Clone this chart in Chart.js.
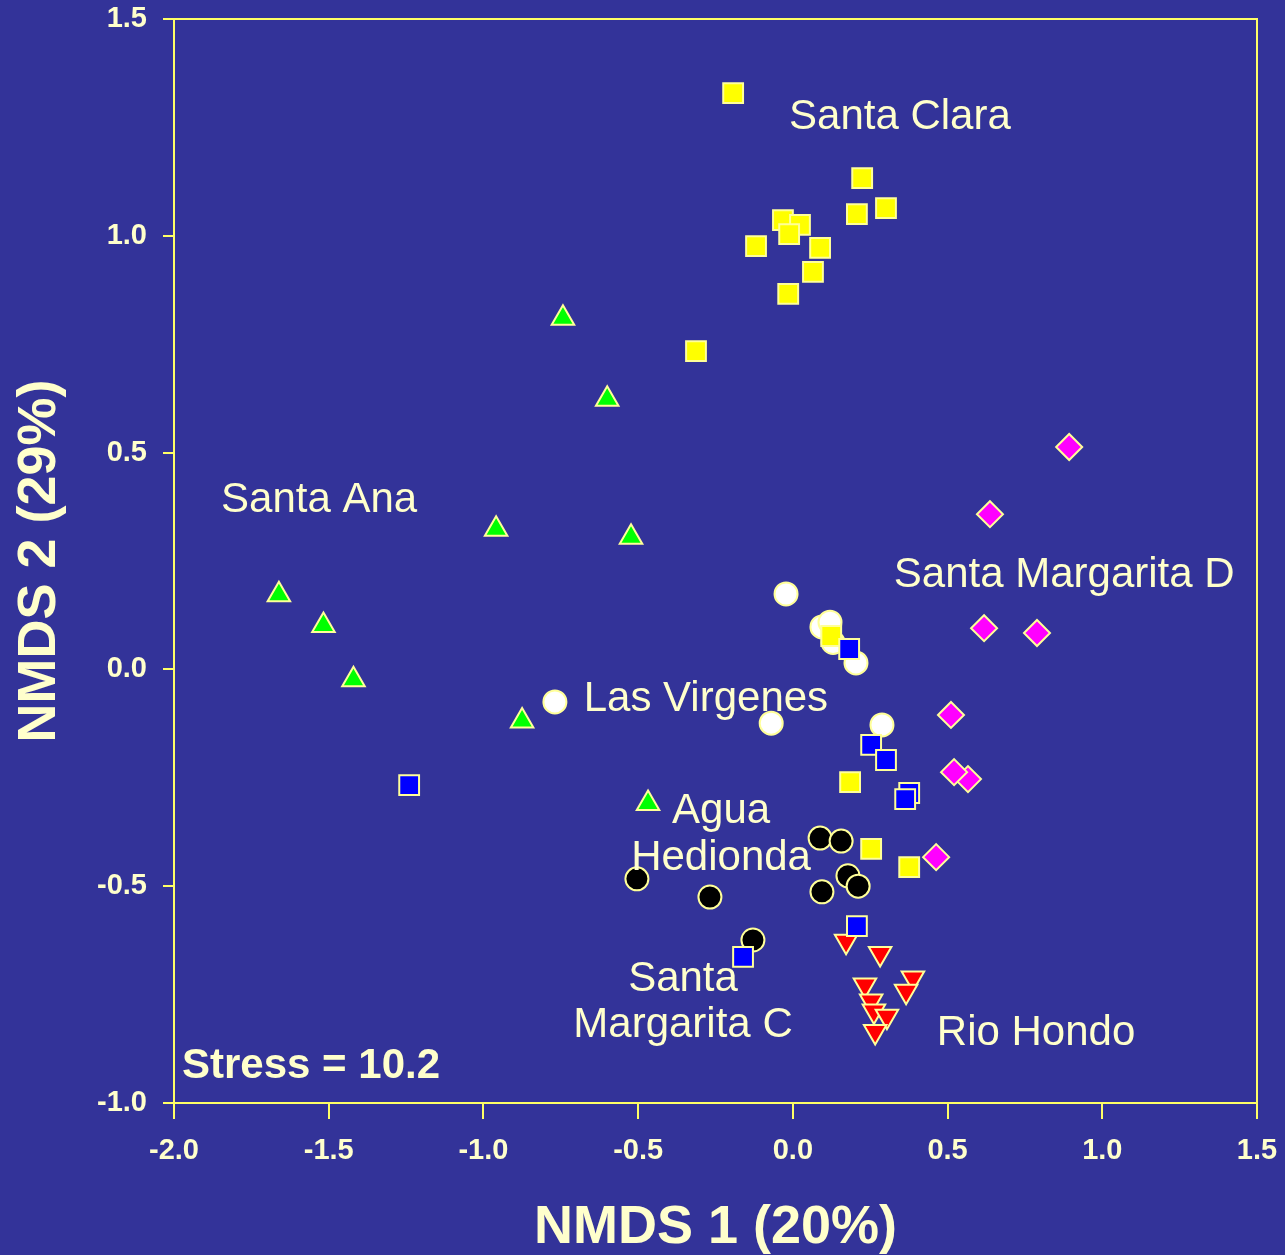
<!DOCTYPE html>
<html>
<head>
<meta charset="utf-8">
<title>NMDS</title>
<script src="https://cdn.jsdelivr.net/npm/chart.js@4.4.1/dist/chart.umd.min.js"></script>
<style>
  html, body { margin: 0; padding: 0; background: #333399; }
  canvas { display: block; }
</style>
</head>
<body>
<canvas id="nmds" width="1285" height="1255"></canvas>
<script>
// x = NMDS 1, y = NMDS 2
const santaClaraX = [-0.193, 0.224, 0.207, 0.301, -0.032, 0.023, -0.012, -0.119, 0.088, 0.065, -0.015, -0.313, 0.124, 0.185, 0.253, 0.376];
const santaClaraY = [1.329, 1.133, 1.050, 1.064, 1.036, 1.025, 1.004, 0.976, 0.972, 0.917, 0.866, 0.734, 0.077, -0.260, -0.414, -0.456];

const santaAnaX = [-0.743, -0.600, -0.959, -0.523, -1.661, -1.517, -1.420, -0.875, -0.468];
const santaAnaY = [0.810, 0.623, 0.323, 0.305, 0.172, 0.101, -0.024, -0.119, -0.309];

const lasVirgenesX = [-0.022, 0.094, 0.120, 0.130, 0.204, -0.769, -0.070, 0.288];
const lasVirgenesY = [0.174, 0.098, 0.109, 0.062, 0.015, -0.075, -0.124, -0.128];

const margaritaCX = [0.182, 0.253, 0.301, 0.376, 0.363, -1.240, 0.207, -0.161];
const margaritaCY = [0.047, -0.174, -0.209, -0.285, -0.299, -0.267, -0.592, -0.663];

const margaritaDX = [0.893, 0.637, 0.618, 0.789, 0.511, 0.566, 0.521, 0.463];
const margaritaDY = [0.513, 0.358, 0.095, 0.084, -0.105, -0.253, -0.237, -0.433];

const aguaX = [0.088, 0.156, 0.178, 0.211, 0.094, -0.504, -0.268, -0.129];
const aguaY = [-0.389, -0.396, -0.476, -0.500, -0.513, -0.483, -0.525, -0.624];

const rioHondoX = [0.172, 0.282, 0.233, 0.388, 0.366, 0.253, 0.262, 0.304, 0.266];
const rioHondoY = [-0.627, -0.655, -0.728, -0.712, -0.742, -0.765, -0.788, -0.800, -0.835];

// group names written on the plot, anchored in data units
const groupNames = ['Santa Clara', 'Santa Ana', 'Santa Margarita D', 'Las Virgenes', 'Agua', 'Hedionda', 'Santa', 'Margarita C', 'Rio Hondo'];
const groupNameX = [0.346, -1.531, 0.877, -0.281, -0.232, -0.232, -0.355, -0.355, 0.786];
const groupNameY = [1.281, 0.398, 0.225, -0.062, -0.320, -0.428, -0.707, -0.813, -0.832];

const xTitle = 'NMDS 1 (20%)';
const yTitle = 'NMDS 2 (29%)';
const stressText = 'Stress = 10.2';

const cream = '#FFFFCC';
const lineYellow = '#FFFF66';
const edge = '#FFFF99';

Chart.defaults.font.family = '"Liberation Sans", Arial, Helvetica, sans-serif';

const pts = (xs, ys) => xs.map((x, i) => ({ x: x, y: ys[i] }));

const series = (data, fill, style, radius, order, rotation) => ({
    data: data,
    showLine: false,
    pointStyle: style,
    pointRadius: radius,
    pointRotation: rotation || 0,
    backgroundColor: fill,
    borderColor: edge,
    pointBorderWidth: 2,
    order: order
});

const bgPlugin = {
    id: 'bg',
    beforeDraw(chart) {
        const ctx = chart.ctx;
        ctx.save();
        ctx.fillStyle = '#333399';
        ctx.fillRect(0, 0, chart.width, chart.height);
        ctx.restore();
    },
    beforeDatasetsDraw(chart) {
        const a = chart.chartArea;
        const ctx = chart.ctx;
        ctx.save();
        ctx.strokeStyle = lineYellow;
        ctx.lineWidth = 2;
        ctx.strokeRect(a.left, a.top, a.right - a.left, a.bottom - a.top);
        ctx.restore();
    },
    afterDatasetsDraw(chart) {
        const ctx = chart.ctx;
        const xs = chart.scales.x, ys = chart.scales.y;
        ctx.save();
        ctx.fillStyle = cream;
        ctx.textAlign = 'center';
        ctx.textBaseline = 'alphabetic';
        ctx.font = '42px "Liberation Sans", Arial, sans-serif';
        groupNames.forEach((name, i) => {
            ctx.fillText(name, xs.getPixelForValue(groupNameX[i]), ys.getPixelForValue(groupNameY[i]) + 15);
        });
        ctx.textAlign = 'left';
        ctx.font = 'bold 42px "Liberation Sans", Arial, sans-serif';
        ctx.fillText(stressText, chart.chartArea.left + 8, chart.chartArea.bottom - 25);
        ctx.restore();
    }
};

const ctx = document.getElementById('nmds').getContext('2d');
new Chart(ctx, {
    type: 'scatter',
    data: {
        datasets: [
            series(pts(margaritaCX, margaritaCY), '#0000FF', 'rect', 14, 0),
            series(pts(santaClaraX, santaClaraY), '#FFFF00', 'rect', 14, 1),
            series(pts(margaritaDX, margaritaDY), '#FF00FF', 'rectRot', 13, 2),
            series(pts(aguaX, aguaY), '#000000', 'circle', 11.5, 3),
            series(pts(rioHondoX, rioHondoY), '#FF0000', 'triangle', 13, 4, 180),
            series(pts(lasVirgenesX, lasVirgenesY), '#FFFFFF', 'circle', 11.5, 5),
            series(pts(santaAnaX, santaAnaY), '#00FF00', 'triangle', 13, 6)
        ]
    },
    options: {
        responsive: false,
        animation: false,
        layout: { padding: { left: 0, top: 19, right: 28, bottom: 0 } },
        plugins: {
            legend: { display: false },
            tooltip: { enabled: false }
        },
        scales: {
            x: {
                type: 'linear',
                min: -2.0,
                max: 1.5,
                afterFit: s => { s.height = 152; s.paddingLeft = 0; s.paddingRight = 0; },
                ticks: {
                    stepSize: 0.5,
                    color: cream,
                    padding: 15,
                    font: { size: 29, weight: 'bold' },
                    callback: v => v.toFixed(1)
                },
                grid: { drawOnChartArea: false, color: lineYellow, lineWidth: 2, tickLength: 16 },
                border: { display: true, color: lineYellow, width: 2 },
                title: {
                    display: true,
                    text: xTitle,
                    color: cream,
                    font: { size: 54, weight: 'bold', lineHeight: 1 },
                    padding: { top: 0, bottom: 0 }
                }
            },
            y: {
                type: 'linear',
                min: -1.0,
                max: 1.5,
                afterFit: s => { s.width = 174; s.paddingTop = 0; s.paddingBottom = 0; },
                ticks: {
                    stepSize: 0.5,
                    color: cream,
                    padding: 16,
                    font: { size: 29, weight: 'bold' },
                    callback: v => v.toFixed(1)
                },
                grid: { drawOnChartArea: false, color: lineYellow, lineWidth: 2, tickLength: 11 },
                border: { display: true, color: lineYellow, width: 2 },
                title: {
                    display: true,
                    text: yTitle,
                    color: cream,
                    font: { size: 54, weight: 'bold', lineHeight: 1 },
                    padding: { top: 13, bottom: 0 }
                }
            }
        }
    },
    plugins: [bgPlugin]
});
</script>
</body>
</html>
